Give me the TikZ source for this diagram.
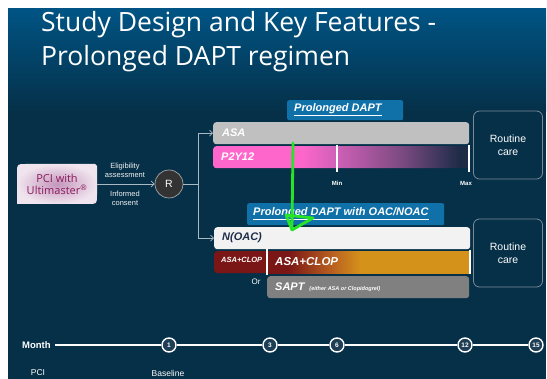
\documentclass[tikz,border=0pt]{standalone}
\usepackage{fontspec}
\setmainfont{Liberation Sans}
\newfontfamily\titlefont{Open Sans}
\usetikzlibrary{arrows.meta,calc}
\definecolor{bgtop}{RGB}{0,84,132}
\definecolor{bgbot}{RGB}{5,48,72}
\definecolor{tabblue}{RGB}{16,112,168}
\definecolor{asagrey}{RGB}{192,192,192}
\definecolor{pinkc}{RGB}{255,102,204}
\definecolor{pinkmid}{RGB}{208,96,184}
\definecolor{purpc}{RGB}{122,74,128}
\definecolor{navyc}{RGB}{30,44,72}
\definecolor{dred}{RGB}{122,22,22}
\definecolor{orangec}{RGB}{184,96,32}
\definecolor{goldc}{RGB}{212,146,26}
\definecolor{noacfill}{RGB}{242,242,242}
\definecolor{noactext}{RGB}{28,46,72}
\definecolor{saptgrey}{RGB}{128,128,128}
\definecolor{pcimid}{RGB}{196,150,188}
\definecolor{pciout}{RGB}{240,228,238}
\definecolor{pcitext}{RGB}{138,26,92}
\definecolor{conncol}{RGB}{170,184,196}
\definecolor{boxline}{RGB}{122,138,152}
\definecolor{tlfill}{RGB}{30,62,86}
\definecolor{greenann}{RGB}{40,228,40}
\pgfdeclarehorizontalshading{p2yshade}{100bp}{color(0bp)=(pinkc); color(42bp)=(pinkc); color(49bp)=(pinkmid); color(62bp)=(purpc); color(73bp)=(navyc); color(100bp)=(navyc)}
\pgfdeclarehorizontalshading{clopshade}{100bp}{color(0bp)=(dred); color(30bp)=(dred); color(41bp)=(orangec); color(48bp)=(goldc); color(100bp)=(goldc)}
\newcommand{\myfs}[1]{\fontsize{#1}{#1}\selectfont}
\tikzset{
  bar/.style={rounded corners=3pt, minimum height=22pt, inner sep=0pt, anchor=north west},
  bartext/.style={font=\bfseries\itshape\myfs{11}, text=white, anchor=west, inner sep=0pt},
  tabbox/.style={fill=tabblue, rounded corners=2pt, inner sep=0pt, minimum height=20pt, anchor=north west},
  routine/.style={draw=boxline, line width=0.8pt, rounded corners=6pt, minimum width=69pt, minimum height=68pt, text=white, align=center, font=\myfs{10.5}, inner sep=0pt},
  conn/.style={draw=conncol, line width=0.7pt},
  tip/.style={-{Straight Barb[length=3pt,width=6pt]}},
  small/.style={text=white!90!gray, font=\myfs{7.5}, inner sep=0pt, align=center},
  tick/.style={draw=white, line width=1.2pt},
  tl/.style={draw=white, line width=1.4pt},
  tlc/.style={circle, draw=white, line width=1.4pt, fill=tlfill, minimum size=14pt, inner sep=0pt, text=white, font=\bfseries\myfs{6.5}},
}
\begin{document}
\begin{tikzpicture}[x=1pt,y=-1pt]
\useasboundingbox (0,0) rectangle (547,379);
\fill[white] (0,0) rectangle (547,379);
\fill[bgbot] (8,9) rectangle (546,379);
\shade[top color=bgtop, bottom color=bgbot] (8,9) rectangle (546,112);

% title
\node[anchor=base west, text=white, font=\titlefont\myfs{26.5}, inner sep=0pt] (title1) at (41,32) {Study Design and Key Features -};
\node[anchor=base west, text=white, font=\titlefont\myfs{26.5}, inner sep=0pt] (title2) at (41,66) {Prolonged DAPT regimen};

% PCI box
\shade[inner color=pcimid, outer color=pciout] (17,173) .. controls (17,164) .. (26,164) -- (95,164) -- (97,166) -- (97,195) .. controls (97,204) .. (88,204) -- (17,204) -- cycle;
\node[minimum width=80pt, minimum height=40pt, inner sep=0pt, text=pcitext, font=\titlefont\myfs{11}, align=center] (pci) at (57,184) {PCI with\\[1pt]Ultimaster\textsuperscript{®}};

% randomisation
\node[circle, draw=gray!70, line width=0.7pt, fill=black!80, minimum size=28pt, inner sep=0pt, text=white, font=\myfs{10.5}] (R) at (169,184) {R};
\draw[conn, tip] (pci.east) -- (R.west);
\node[small] (elig) at (125,170) {Eligibility\\[1.5pt]assessment};
\node[small] (inf) at (125,198) {Informed\\[1.5pt]consent};
\coordinate (jn) at (198,184);
\draw[conn] (R.east) -- (jn);

% upper arm
\node[tabbox, minimum width=116pt] (tab1) at (287,100) {};
\node[bartext, anchor=west] (tab1t) at (294,110) {\underline{Prolonged DAPT}};
\node[bar, fill=asagrey, minimum width=256pt] (asa) at (213,122) {};
\node[bartext] (asat) at (222,133) {ASA};
\node[bar, shade, shading=p2yshade, minimum width=256pt] (p2y) at (213,146) {};
\node[bartext] (p2yt) at (221,157) {P2Y12};
\draw[tick] (337,145) -- (337,172);
\draw[tick] (469,145) -- (469,172);
\node[text=white, font=\bfseries\myfs{6}, inner sep=0pt] (minl) at (337,183) {Min};
\node[text=white, font=\bfseries\myfs{6}, inner sep=0pt] (maxl) at (466,183) {Max};
\node[routine] (rc1) at (508,145) {Routine\\[2pt]care};
\draw[conn, tip] (jn) |- (asa.west);

% lower arm
\node[tabbox, minimum width=197pt, minimum height=22pt] (tab2) at (247,203) {};
\node[bartext] (tab2t) at (253,214) {\underline{Prolonged DAPT with OAC/NOAC}};
\node[bar, fill=noacfill, minimum width=256pt] (noac) at (214,227) {};
\node[bartext, text=noactext] (noact) at (222,238) {N(OAC)};
\node[bar, fill=dred, minimum width=58pt, rounded corners=3pt] (clops) at (214,251) {};
\node[bartext, font=\bfseries\itshape\myfs{7.5}] (clopst) at (221,260) {ASA+CLOP};
\node[bar, shade, shading=clopshade, minimum width=203pt, rounded corners=0pt] (clop) at (267,251) {};
\node[bartext, font=\bfseries\itshape\myfs{11.5}] (clopt) at (275,262) {ASA+CLOP};
\draw[tick, line width=1.4pt] (267,249) -- (267,275);
\draw[tick] (470,250) -- (470,274);
\node[text=white, font=\myfs{8}, inner sep=0pt] (ortxt) at (256,282) {Or};
\node[bar, fill=saptgrey, minimum width=202pt] (sapt) at (267,276) {};
\node[bartext] (saptt) at (275,287) {SAPT \,{\myfs{5.5}(either ASA or Clopidogrel)}};
\node[routine] (rc2) at (508,253) {Routine\\[2pt]care};
\draw[conn, tip] (jn) |- (noac.west);

% green annotation
\draw[greenann, line width=2.8pt, line cap=round, line join=round] (293,143) -- (292,230) -- (286,215) -- (313,218) -- (292,230);

% timeline
\node[text=white, font=\bfseries\myfs{9.5}, anchor=west, inner sep=0pt] (month) at (22,345) {Month};
\node[tlc] (m1) at (169,345) {1};
\node[tlc] (m3) at (270,345) {3};
\node[tlc] (m6) at (337,345) {6};
\node[tlc] (m12) at (465,345) {12};
\node[tlc] (m15) at (536,345) {15};
\draw[tl] ([xshift=4pt]month.east |- m1.center) -- (m1) -- (m3) -- (m6) -- (m12) -- (m15);
\node[text=white, font=\myfs{8.5}, inner sep=0pt] (pcil) at (38,373) {PCI};
\node[text=white, font=\myfs{8.5}, inner sep=0pt] (basel) at (168,373) {Baseline};
\end{tikzpicture}
\end{document}
